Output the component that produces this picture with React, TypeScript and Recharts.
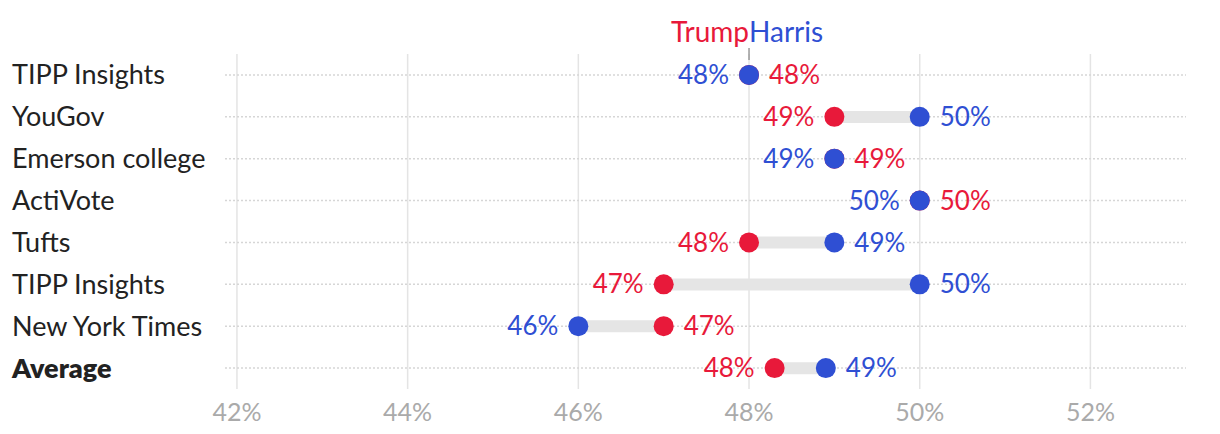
import React from "react"
import {
  ComposedChart,
  Bar,
  Line,
  XAxis,
  YAxis,
  CartesianGrid,
  LabelList,
  ReferenceDot,
} from "recharts"

const pollsters = [
  "TIPP Insights",
  "YouGov",
  "Emerson college",
  "ActiVote",
  "Tufts",
  "TIPP Insights",
  "New York Times",
  "Average",
]
const trumpValues = [48, 49, 49, 50, 48, 47, 47, 48.3]
const harrisValues = [48, 50, 49, 50, 49, 50, 46, 48.9]
const trumpLabels = ["48%", "49%", "49%", "50%", "48%", "47%", "47%", "48%"]
const harrisLabels = ["48%", "50%", "49%", "50%", "49%", "50%", "46%", "49%"]
const xTicks = [42, 44, 46, 48, 50, 52]
const xDomain = [41.86, 53.12]

const RED = "#e8193a"
const BLUE = "#2f4fd3"
const FONT = "Lato, 'Noto Sans', sans-serif"

const data = pollsters.map((name, i) => ({
  key: String(i),
  name,
  trump: trumpValues[i],
  harris: harrisValues[i],
  range: [Math.min(trumpValues[i], harrisValues[i]), Math.max(trumpValues[i], harrisValues[i])],
}))

const YTick = ({ y, payload }: any) => {
  const i = Number(payload.value)
  return (
    <text
      x={12}
      y={y}
      dy="0.35em"
      textAnchor="start"
      fontSize={27}
      fontFamily={FONT}
      fontWeight={pollsters[i] === "Average" ? 800 : 400}
      fill="#222"
    >
      {pollsters[i]}
    </text>
  )
}

const dotShape = (color: string) => (props: any) => {
  const { cx, cy } = props
  if (cx == null || cy == null) return <g />
  return <circle cx={cx} cy={cy} r={10} fill={color} />
}

// Harris label goes left when she is lower or tied, Trump label goes left only when lower
const makeLabel = (who: "trump" | "harris") => (props: any) => {
  const { x, y, index } = props
  const t = trumpValues[index]
  const h = harrisValues[index]
  const left = who === "harris" ? h <= t : t < h
  const text = who === "harris" ? harrisLabels[index] : trumpLabels[index]
  return (
    <text
      x={left ? x - 20 : x + 20}
      y={y}
      dy="0.35em"
      textAnchor={left ? "end" : "start"}
      fontSize={26}
      fontFamily={FONT}
      fill={who === "harris" ? BLUE : RED}
    >
      {text}
    </text>
  )
}

const Header = (props: any) => {
  const { cx, cy } = props
  return (
    <g fontFamily={FONT} fontSize={28}>
      <text x={cx} y={cy - 43} dy="0.35em" textAnchor="end" fill={RED}>Trump</text>
      <text x={cx} y={cy - 43} dy="0.35em" textAnchor="start" fill={BLUE}>Harris</text>
      <line x1={cx} x2={cx} y1={cy - 27} y2={cy - 15} stroke="#999" strokeWidth={1.5} />
    </g>
  )
}

// vertical lines only at the tick values, not at the plot edges
const tickLines = ({ offset }: any) =>
  xTicks.map((t) => offset.left + ((t - xDomain[0]) / (xDomain[1] - xDomain[0])) * offset.width)

// dotted row lines through the middle of each band only
const rowLines = ({ offset }: any) =>
  pollsters.map((_, i) => offset.top + ((i + 0.5) * offset.height) / pollsters.length)

export default function App() {
  return (
    <div style={{ position: "absolute", left: 0, top: 0, background: "#fff" }}>
      <ComposedChart
        width={1220}
        height={434}
        data={data}
        layout="vertical"
        margin={{ top: 54, right: 34, bottom: 0, left: 0 }}
      >
        <CartesianGrid
          horizontal={false}
          stroke="#e4e4e4"
          strokeWidth={1.5}
          verticalCoordinatesGenerator={tickLines}
        />
        <CartesianGrid
          vertical={false}
          stroke="#d6d6d6"
          strokeWidth={1.5}
          strokeDasharray="2 2"
          horizontalCoordinatesGenerator={rowLines}
        />
        <XAxis
          type="number"
          domain={xDomain}
          ticks={xTicks}
          tickFormatter={(v) => `${v}%`}
          axisLine={false}
          tickLine={false}
          tickMargin={8}
          tick={{ fontSize: 25, fill: "#aaa", fontFamily: FONT }}
          height={45}
        />
        <YAxis
          type="category"
          dataKey="key"
          width={225}
          axisLine={false}
          tickLine={false}
          tick={<YTick />}
          interval={0}
        />
        <Bar dataKey="range" fill="#e5e5e5" barSize={12} isAnimationActive={false} />
        <Line
          dataKey="trump"
          stroke="none"
          dot={dotShape(RED)}
          activeDot={false}
          isAnimationActive={false}
        >
          <LabelList dataKey="trump" content={makeLabel("trump")} />
        </Line>
        <Line
          dataKey="harris"
          stroke="none"
          dot={dotShape(BLUE)}
          activeDot={false}
          isAnimationActive={false}
        >
          <LabelList dataKey="harris" content={makeLabel("harris")} />
        </Line>
        <ReferenceDot x={48} y="0" ifOverflow="visible" shape={<Header />} />
      </ComposedChart>
    </div>
  )
}
